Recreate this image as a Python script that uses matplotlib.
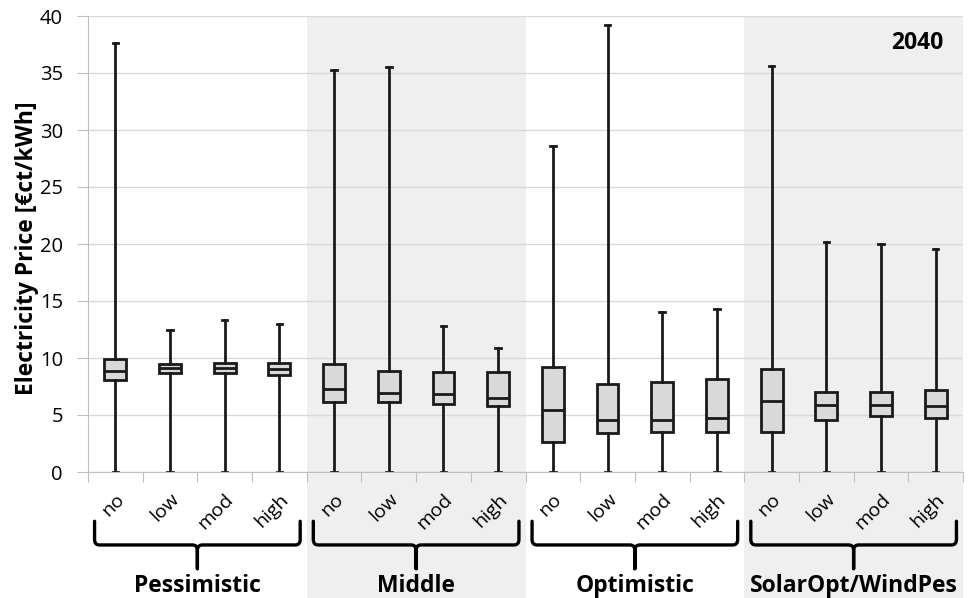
import matplotlib
matplotlib.use("Agg")
import matplotlib.pyplot as plt
import matplotlib.transforms as mtransforms
from matplotlib.path import Path
from matplotlib.patches import PathPatch, Rectangle

# scenarios (groups) and storage levels (boxes per group)
scenarios = ["Pessimistic", "Middle", "Optimistic", "SolarOpt/WindPes"]
levels = ["no", "low", "mod", "high"]

# box statistics, one entry per box, scenario by scenario [€ct/kWh]
price_min = [0, 0, 0, 0, 0, 0, 0, 0, 0, 0, 0, 0, 0, 0, 0, 0]
price_q1 = [8.05, 8.65, 8.65, 8.55, 6.1, 6.1, 5.95, 5.75,
            2.6, 3.45, 3.55, 3.55, 3.55, 4.55, 4.9, 4.7]
price_med = [8.85, 9.1, 9.15, 9.05, 7.25, 6.9, 6.8, 6.45,
             5.4, 4.55, 4.6, 4.7, 6.2, 5.85, 5.85, 5.8]
price_q3 = [9.95, 9.5, 9.6, 9.55, 9.5, 8.85, 8.8, 8.8,
            9.25, 7.7, 7.9, 8.2, 9.05, 7.05, 7.05, 7.2]
price_max = [37.6, 12.5, 13.3, 13.0, 35.3, 35.5, 12.8, 10.9,
             28.6, 39.2, 14.0, 14.3, 35.6, 20.2, 20.0, 19.6]

FONT = "Open Sans"
DARK = "#1a1a1a"
SHADE = "#efefef"


def brace(ax, x0, x1, trans):
    # curly brace opening downwards, x in data units, y in axes fraction
    y_top, y_mid, y_tip = -0.108, -0.160, -0.212
    rx, dy = 0.09, 0.012
    xc = (x0 + x1) / 2
    verts, codes = [], []
    for xa, sgn in ((x0, 1), (x1, -1)):
        verts += [(xa, y_top), (xa, y_mid + dy), (xa, y_mid), (xa + sgn * rx, y_mid),
                  (xc - sgn * rx, y_mid), (xc, y_mid), (xc, y_mid - dy), (xc, y_tip)]
        codes += [Path.MOVETO, Path.LINETO, Path.CURVE3, Path.CURVE3,
                  Path.LINETO, Path.CURVE3, Path.CURVE3, Path.LINETO]
    patch = PathPatch(Path(verts, codes), facecolor="none", edgecolor="black",
                      lw=2.4, transform=trans, clip_on=False, capstyle="round",
                      joinstyle="round")
    ax.add_patch(patch)


def main():
    fig = plt.figure(figsize=(9.76, 5.98), dpi=100)
    ax = fig.add_axes([88 / 976, 126 / 598, 875 / 976, 456 / 598])

    stats = []
    for i in range(len(price_med)):
        stats.append({"whislo": price_min[i], "q1": price_q1[i], "med": price_med[i],
                      "q3": price_q3[i], "whishi": price_max[i], "fliers": []})

    ax.bxp(stats, positions=range(len(stats)), widths=0.4, capwidths=0.1,
           patch_artist=True, showfliers=False,
           boxprops=dict(facecolor="#d9d9d9", edgecolor=DARK, lw=2.0),
           medianprops=dict(color=DARK, lw=2.0),
           whiskerprops=dict(color=DARK, lw=2.0),
           capprops=dict(color=DARK, lw=2.0))

    # shaded scenario bands, running down past the axis into the label area
    trans = mtransforms.blended_transform_factory(ax.transData, ax.transAxes)
    for g in (1, 3):
        ax.add_patch(Rectangle((4 * g - 0.5, -0.32), 4, 1.32, transform=trans,
                               facecolor=SHADE, edgecolor="none", zorder=0.1,
                               clip_on=False))

    ax.set_xlim(-0.5, 15.5)
    ax.set_ylim(0, 40)
    ax.set_yticks(range(0, 41, 5))
    ax.set_axisbelow(True)
    ax.grid(axis="y", color="#d9d9d9", lw=1.0)
    ax.tick_params(axis="y", length=8, color="#bfbfbf", labelsize=14.5, pad=10)

    # tick marks at category boundaries, labels at the centres
    ax.set_xticks([i - 0.5 for i in range(17)])
    ax.set_xticklabels([])
    ax.tick_params(axis="x", which="major", length=7, color="#bfbfbf")
    ax.set_xticks(range(16), minor=True)
    ax.set_xticklabels(levels * 4, minor=True, rotation=45, ha="right",
                       rotation_mode="anchor", fontsize=14, family=FONT)
    ax.tick_params(axis="x", which="minor", length=0, pad=13)

    for lab in ax.get_yticklabels():
        lab.set_family(FONT)

    for side in ("top", "right"):
        ax.spines[side].set_visible(False)
    ax.spines["left"].set_color("#bfbfbf")
    ax.spines["bottom"].set_color("#bfbfbf")

    ax.set_ylabel("Electricity Price [€ct/kWh]", fontsize=16.5, fontweight="bold",
                  family=FONT)
    ax.yaxis.set_label_coords(-0.056, 0.49)

    for g, name in enumerate(scenarios):
        brace(ax, 4 * g - 0.5 + 0.12, 4 * g + 3.5 - 0.12, trans)
        ax.text(4 * g + 1.5, -0.25, name, transform=trans, ha="center", va="center",
                fontsize=16.5, fontweight="bold", family=FONT)

    ax.text(0.978, 0.94, "2040", transform=ax.transAxes, ha="right", va="center",
            fontsize=16.5, fontweight="bold", family=FONT)

    fig.savefig("out.png", dpi=100)


if __name__ == "__main__":
    main()
